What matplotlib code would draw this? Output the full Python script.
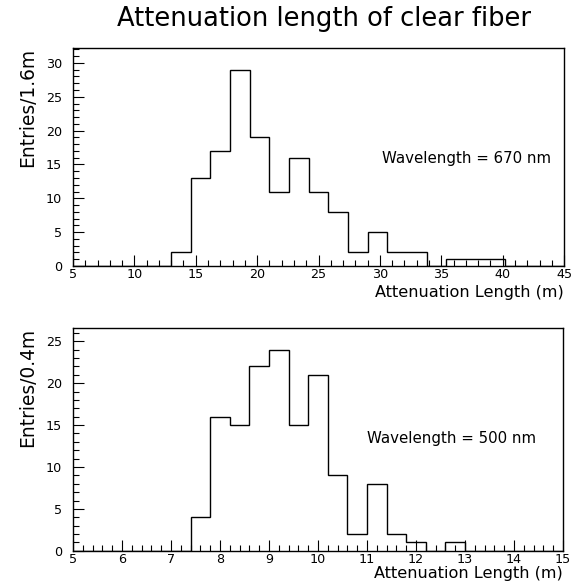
import matplotlib
matplotlib.use("Agg")
import matplotlib.pyplot as plt
import numpy as np
from matplotlib.ticker import MultipleLocator

# 670 nm: bins of 1.6 m from 5 to 45
edges_670 = np.round(np.arange(5.0, 45.01, 1.6), 2)
counts_670 = [0, 0, 0, 0, 0, 2, 13, 17, 29, 19, 11, 16, 11, 8, 2, 5, 2, 2, 0, 1, 1, 1, 0, 0, 0]

# 500 nm: bins of 0.4 m from 5 to 15
edges_500 = np.round(np.arange(5.0, 15.01, 0.4), 2)
counts_500 = [0, 0, 0, 0, 0, 0, 4, 16, 15, 22, 24, 15, 21, 9, 2, 8, 2, 1, 0, 1, 0, 0, 0, 0, 0]

plt.rcParams["font.family"] = ["DejaVu Sans"]

fig = plt.figure(figsize=(5.73, 5.85), dpi=100)
ax1 = fig.add_axes([0.1274, 0.5453, 0.857, 0.3726])
ax2 = fig.add_axes([0.1274, 0.0585, 0.855, 0.381])


def draw(ax, edges, counts, xmaj, xmin, ymax, ylabel, text, tx, ty, xpad):
    ax.stairs(counts, edges, color="black", linewidth=1.0)
    ax.set_xlim(edges[0], edges[-1])
    ax.set_ylim(0, ymax)
    ax.xaxis.set_major_locator(MultipleLocator(xmaj))
    ax.xaxis.set_minor_locator(MultipleLocator(xmin))
    ax.yaxis.set_major_locator(MultipleLocator(5))
    ax.yaxis.set_minor_locator(MultipleLocator(1))
    ax.tick_params(which="both", direction="in", top=False, right=False,
                   labelsize=9.2, width=0.8, pad=1.5)
    ax.tick_params(which="major", length=8)
    ax.tick_params(which="minor", length=4)
    ax.tick_params(axis="y", pad=8)
    for s in ax.spines.values():
        s.set_linewidth(1.0)
    ax.set_ylabel(ylabel, fontsize=13.4, loc="top", labelpad=6)
    ax.set_xlabel("Attenuation Length (m)", fontsize=11.6, loc="right", labelpad=xpad)
    ax.text(tx, ty, text, fontsize=10.8)


draw(ax1, edges_670, counts_670, 5, 1, 32.2, "Entries/1.6m",
     "Wavelength = 670 nm", 30.2, 15.2, 3)
draw(ax2, edges_500, counts_500, 1, 0.2, 26.6, "Entries/0.4m",
     "Wavelength = 500 nm", 11.0, 12.9, 0)

fig.text(0.565, 0.968, "Attenuation length of clear fiber", ha="center",
         va="center", fontsize=18.5)

fig.savefig("out.png", dpi=100)
